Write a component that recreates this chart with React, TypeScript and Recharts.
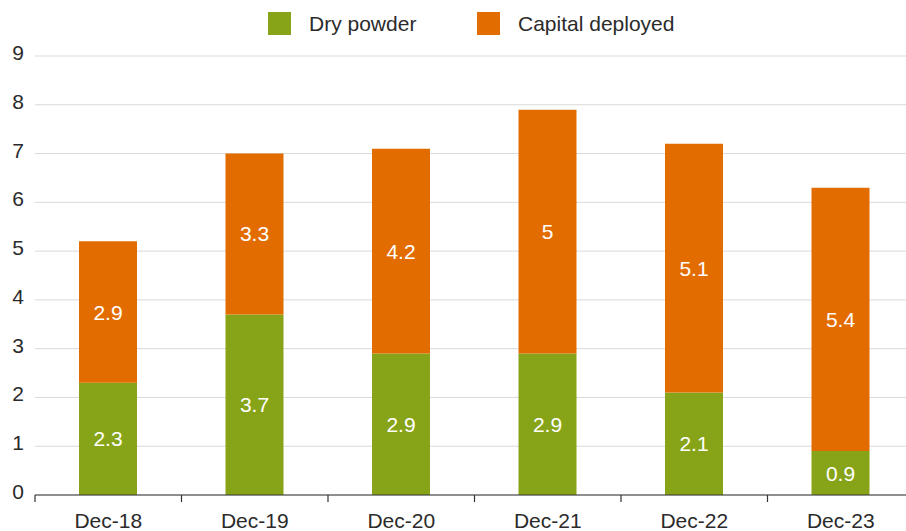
import { BarChart, Bar, XAxis, YAxis, CartesianGrid, LabelList } from 'recharts'

const categories = ['Dec-18', 'Dec-19', 'Dec-20', 'Dec-21', 'Dec-22', 'Dec-23']
const dryPowder = [2.3, 3.7, 2.9, 2.9, 2.1, 0.9]
const capitalDeployed = [2.9, 3.3, 4.2, 5, 5.1, 5.4]
const yTicks = [0, 1, 2, 3, 4, 5, 6, 7, 8, 9]

const GREEN = '#87a418'
const ORANGE = '#e36c00'
const FONT = '"Liberation Sans", Arial, sans-serif'
const TEXT = '#2b2b2b'

const data = categories.map((name, i) => ({
  name,
  dry: dryPowder[i],
  capital: capitalDeployed[i],
}))

const CHART_W = 914
const Y_AXIS_W = 35
const BAND = (CHART_W - Y_AXIS_W) / categories.length

function YTick(props: any) {
  const { y, payload } = props
  return (
    <text x={18} y={y} dy={4} textAnchor="middle" fontSize={21} fontFamily={FONT} fill={TEXT}>
      {payload.value}
    </text>
  )
}

function XTick(props: any) {
  const { x, y, payload } = props
  const left = x - BAND / 2
  return (
    <g>
      <line x1={left} x2={left} y1={y} y2={y + 7} stroke="#333" strokeWidth={1.2} />
      <text x={x} y={y} dy={33} textAnchor="middle" fontSize={21} fontFamily={FONT} fill={TEXT}>
        {payload.value}
      </text>
    </g>
  )
}

function LegendBox() {
  const item = (color: string, label: string, left: number) => (
    <div style={{ position: 'absolute', left, top: 12, display: 'flex', alignItems: 'center', height: 23 }}>
      <div style={{ width: 23, height: 23, backgroundColor: color }} />
      <span style={{ marginLeft: 18, fontSize: 21, fontFamily: FONT, color: TEXT, lineHeight: '23px' }}>
        {label}
      </span>
    </div>
  )
  return (
    <>
      {item(GREEN, 'Dry powder', 268)}
      {item(ORANGE, 'Capital deployed', 477)}
    </>
  )
}

export default function App() {
  return (
    <div style={{ position: 'absolute', left: 0, top: 0, width: 906, height: 531, overflow: 'hidden', background: '#fff' }}>
      <BarChart
        width={CHART_W}
        height={531}
        data={data}
        margin={{ top: 56, right: 0, left: 0, bottom: 0 }}
        barSize={58}
      >
        <CartesianGrid horizontal vertical={false} stroke="#d9d9d9" />
        <XAxis
          dataKey="name"
          height={36}
          axisLine={{ stroke: '#333', strokeWidth: 1.2 }}
          tickLine={false}
          tickSize={0}
          tickMargin={0}
          tick={<XTick />}
          interval={0}
        />
        <YAxis
          width={Y_AXIS_W}
          domain={[0, 9]}
          ticks={yTicks}
          axisLine={false}
          tickLine={false}
          tick={<YTick />}
          interval={0}
        />
        <Bar dataKey="dry" stackId="a" fill={GREEN} isAnimationActive={false}>
          <LabelList dataKey="dry" position="center" fill="#fff" fontSize={21} fontFamily={FONT} />
        </Bar>
        <Bar dataKey="capital" stackId="a" fill={ORANGE} isAnimationActive={false}>
          <LabelList dataKey="capital" position="center" fill="#fff" fontSize={21} fontFamily={FONT} />
        </Bar>
      </BarChart>
      <LegendBox />
    </div>
  )
}
